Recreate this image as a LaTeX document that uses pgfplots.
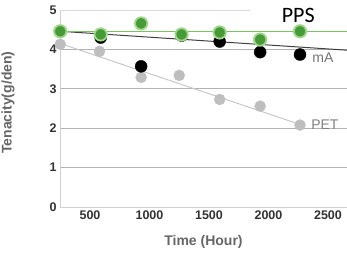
\documentclass[border=0pt]{standalone}
\usepackage{pgfplots}
\pgfplotsset{compat=1.18}
\usepackage{fontspec}
\setmainfont{Liberation Sans}
\newfontfamily\calfont{Carlito}
\definecolor{gline}{RGB}{120,195,100}
\definecolor{gfill}{RGB}{70,155,55}
\definecolor{gring}{RGB}{160,215,140}
\definecolor{pet}{RGB}{190,190,190}
\definecolor{petline}{RGB}{200,200,200}
\definecolor{txt}{RGB}{50,50,50}
\begin{document}
\begin{tikzpicture}
\begin{axis}[
  at={(0,0)}, anchor=south west,
  scale only axis, width=287pt, height=197pt,
  xmin=248, xmax=2660, ymin=0, ymax=5,
  xtick={500,1000,1500,2000,2500},
  ytick={0,1,2,3,4,5},
  major tick length=0pt,
  ymajorgrids, grid style={color=black!30, line width=0.8pt},
  axis line style={color=black!18, line width=0.8pt},
  axis x line*=bottom, axis y line*=left,
  tick label style={font=\bfseries\fontsize{12.5}{13}\selectfont, color=txt},
  /pgf/number format/assume math mode=true,
  /pgf/number format/1000 sep={},
  xlabel={Time (Hour)}, ylabel={Tenacity(g/den)},
  label style={font=\bfseries\fontsize{14}{15}\selectfont, color=black!60},
  xlabel style={at={(axis description cs:0.5,-0.178)}, anchor=center},
  ylabel style={at={(axis description cs:-0.181,0.53)}, anchor=center, rotate=0},
  clip=false,
]
% top border
\draw[color=black!15, line width=0.8pt] (axis cs:248,5) -- (axis cs:2660,5);
% trend lines
\addplot[petline, line width=1pt] coordinates {(250,4.15) (2260,2.10)};
\addplot[black!75, line width=1pt] coordinates {(250,4.46) (2660,3.98)};
\addplot[gline, line width=1.2pt] coordinates {(250,4.46) (2660,4.46)};
% PET
\addplot[only marks, mark=*, mark size=5.5pt, mark options={fill=pet, draw=pet}]
 coordinates {(250,4.13) (580,3.95) (930,3.29) (1250,3.34) (1590,2.73) (1930,2.56) (2265,2.08)};
% mA
\addplot[only marks, mark=*, mark size=6pt, mark options={fill=black, draw=black}]
 coordinates {(250,4.46) (590,4.30) (930,3.57) (1270,4.35) (1590,4.20) (1930,3.93) (2265,3.87)};
% PPS
\addplot[only marks, mark=*, mark size=6.2pt, mark options={fill=gfill, draw=gring, line width=1.8pt}]
 coordinates {(250,4.46) (590,4.38) (930,4.66) (1270,4.38) (1590,4.43) (1930,4.25) (2265,4.46)};
\node[font=\fontsize{14}{14}\selectfont, color=black!55, anchor=west] at (axis cs:2340,3.8) {mA};
\node[font=\fontsize{14}{14}\selectfont, color=black!50, anchor=west] at (axis cs:2330,2.1) {PET};
\node[fill=white, inner sep=0pt, minimum width=97pt, minimum height=24pt, anchor=north east] at (axis cs:2660,5.3) {};
\node[font=\calfont\fontsize{22}{22}\selectfont, color=black] at (axis cs:2250,4.87) {PPS};
\end{axis}
\pgfresetboundingbox
\path (-60pt,-45pt) rectangle (287pt,207pt);
\end{tikzpicture}
\end{document}
